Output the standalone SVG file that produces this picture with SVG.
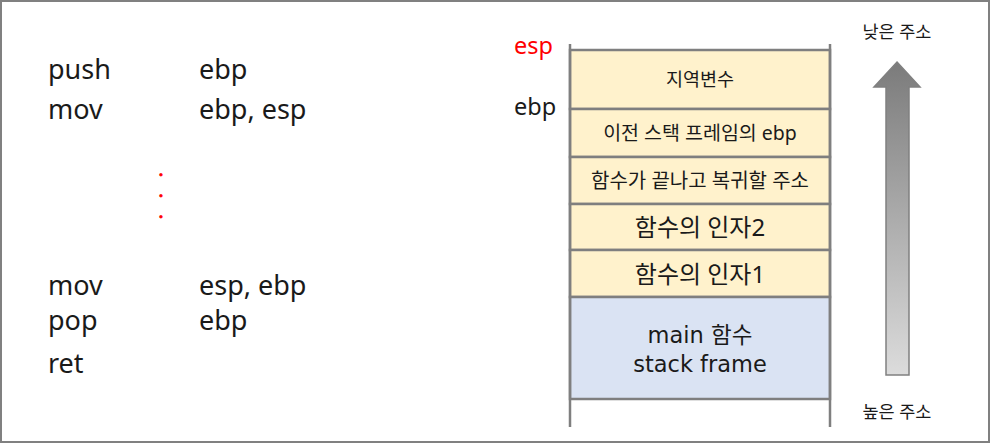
<svg xmlns="http://www.w3.org/2000/svg" width="991" height="444" viewBox="0 0 991 444">
<style>
text{font-family:"Noto Sans","Noto Sans CJK KR",sans-serif;fill:#1a1a1a}
.code{font-size:27px}
.big{font-size:24px}
.mn{font-family:"DejaVu Sans","Noto Sans CJK KR",sans-serif;font-size:22.5px}
.box{stroke:#7f7f7f;stroke-width:2.5}
.y{fill:#FFF2CC}
.b{fill:#DAE3F3}
.red{fill:#ff0000}
.dot{font-size:14px;font-weight:bold;fill:#ff0000;stroke:#ff0000;stroke-width:0.8}
</style>
<defs>
<linearGradient id="g" x1="0" y1="0" x2="0" y2="1">
<stop offset="0" stop-color="#7b7b7b"/>
<stop offset="1" stop-color="#dcdcdc"/>
</linearGradient>
</defs>
<rect x="1" y="1" width="988" height="441" fill="#fff" stroke="#808080" stroke-width="2"/>
<g id="code">
<text class="code" x="48" y="79">push</text>
<text class="code" x="199" y="79">ebp</text>
<text class="code" x="48" y="119">mov</text>
<text class="code" x="199" y="119">ebp, esp</text>
<text class="dot" x="159" y="176">.</text>
<text class="dot" x="159" y="197">.</text>
<text class="dot" x="159" y="218">.</text>
<text class="code" x="48" y="295">mov</text>
<text class="code" x="199" y="295">esp, ebp</text>
<text class="code" x="48" y="330">pop</text>
<text class="code" x="199" y="330">ebp</text>
<text class="code" x="48" y="373">ret</text>
</g>
<g id="labels">
<text class="red" x="514" y="54" font-size="23.5">esp</text>
<text x="514" y="115" font-size="23.5">ebp</text>
</g>
<g id="stack">
<g id="local"><rect class="box y" x="570" y="50" width="260" height="59"/><text x="700" y="86" font-size="18.5" text-anchor="middle">지역변수</text></g>
<g id="prev-ebp"><rect class="box y" x="570" y="109" width="260" height="48"/><text x="700" y="140" font-size="19.5" text-anchor="middle">이전 스택 프레임의 ebp</text></g>
<g id="ret-addr"><rect class="box y" x="570" y="157" width="260" height="47"/><text x="700" y="188" font-size="20" text-anchor="middle">함수가 끝나고 복귀할 주소</text></g>
<g id="arg2"><rect class="box y" x="570" y="204" width="260" height="46"/><text class="big" x="700" y="236" text-anchor="middle">함수의 인자2</text></g>
<g id="arg1"><rect class="box y" x="570" y="250" width="260" height="47"/><text class="big" x="700" y="283" text-anchor="middle">함수의 인자1</text></g>
<g id="main"><rect class="box b" x="570" y="297" width="260" height="102"/><text class="mn" x="700" y="343" text-anchor="middle">main 함수</text><text class="mn" x="700" y="372" text-anchor="middle">stack frame</text></g>
</g>
<g id="connectors">
<line class="box" x1="570" y1="44" x2="570" y2="427"/>
<line class="box" x1="830" y1="44" x2="830" y2="427"/>
<path d="M897 62 L920 87 L909 87 L909 375 L886 375 L886 87 L874 87 Z" fill="url(#g)" stroke="#808080" stroke-width="1.5"/>
</g>
<g id="addr">
<text x="897" y="38" font-size="17.5" text-anchor="middle">낮은 주소</text>
<text x="897" y="418" font-size="17.5" text-anchor="middle">높은 주소</text>
</g>
</svg>
